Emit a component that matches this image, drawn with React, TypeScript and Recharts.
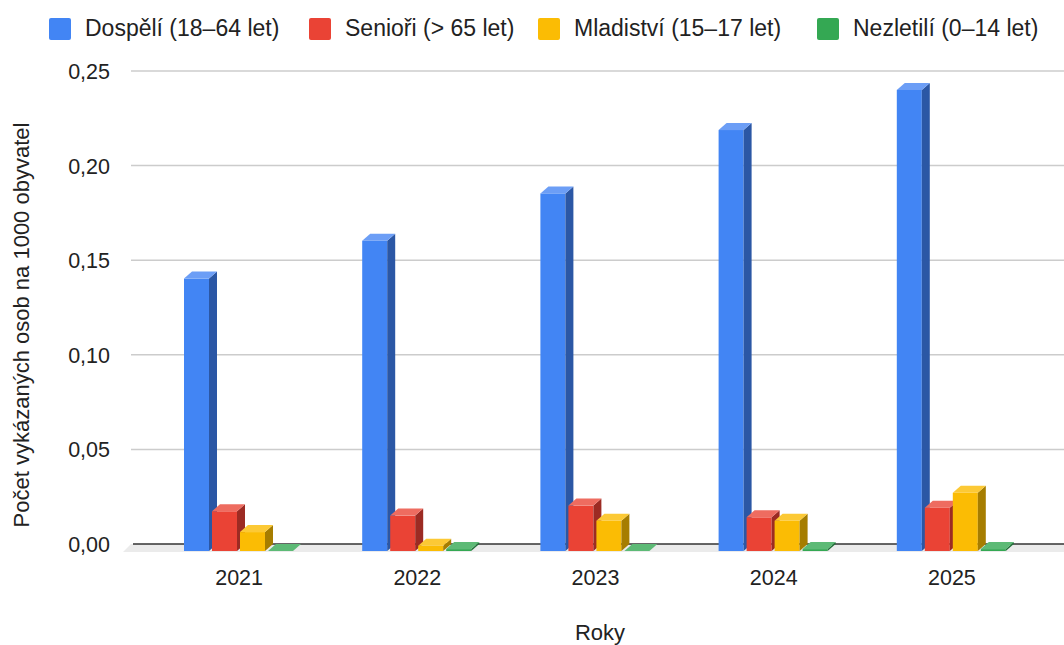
import React from "react";
import { BarChart, Bar, XAxis, YAxis, CartesianGrid } from "recharts";

const years = ["2021", "2022", "2023", "2024", "2025"];
const adults = [0.144, 0.164, 0.189, 0.2225, 0.2437];
const seniors = [0.021, 0.0187, 0.024, 0.0178, 0.0229];
const youth = [0.01, 0.0028, 0.016, 0.016, 0.0308];
const children = [0, 0.001, 0, 0.001, 0.001];
const yTicks = [0, 0.05, 0.1, 0.15, 0.2, 0.25];

const series = [
  { key: "adults", name: "Dospělí (18–64 let)", front: "#4285F4", side: "#2B57A5", top: "#6C9EF6" },
  { key: "seniors", name: "Senioři (> 65 let)", front: "#EA4335", side: "#9C2B23", top: "#EE6C60" },
  { key: "youth", name: "Mladiství (15–17 let)", front: "#FBBC04", side: "#A67D00", top: "#FCC935" },
  { key: "children", name: "Nezletilí (0–14 let)", front: "#34A853", side: "#22703A", top: "#5DBA76" },
];

const data = years.map((year, i) => ({
  year,
  adults: adults[i],
  seniors: seniors[i],
  youth: youth[i],
  children: children[i],
}));

// depth of the fake 3d
const DX = 8;
const DY = 7;
const FONT = '"Liberation Sans", Arial, sans-serif';
const legendLeft = [49, 309, 538, 817];

const make3d = (s: (typeof series)[number]) => (props: any) => {
  const { x, y, width: w, height: h } = props;
  if (x == null || y == null) return <g />;
  return (
    <g>
      <rect x={x} y={y} width={w} height={Math.max(h, 0)} fill={s.front} />
      <polygon
        points={`${x + w},${y} ${x + w + DX},${y - DY} ${x + w + DX},${y + h - DY} ${x + w},${y + h}`}
        fill={s.side}
      />
      <polygon
        points={`${x},${y} ${x + DX},${y - DY} ${x + w + DX},${y - DY} ${x + w},${y}`}
        fill={s.top}
      />
    </g>
  );
};

const gridLine = (props: any) => {
  const y = props.y1 - DY;
  if (Math.abs(props.y1 - 551) < 1) {
    return (
      <g key={props.key}>
        <polygon points={`123,552 1064,552 1064,${y} 131,${y}`} fill="#ebebeb" />
        <line x1={133} x2={1064} y1={y} y2={y} stroke="#333" strokeWidth={1.5} />
      </g>
    );
  }
  return <line key={props.key} x1={131} x2={1064} y1={y} y2={y} stroke="#cccccc" strokeWidth={1.5} />;
};

const YTick = (props: any) => {
  const { y, payload } = props;
  return (
    <text x={110} y={y + 1} textAnchor="end" fontSize={21.5} fontFamily={FONT} fill="#222">
      {payload.value.toFixed(2).replace(".", ",")}
    </text>
  );
};

const XTick = (props: any) => {
  const { x, payload } = props;
  return (
    <text x={x} y={585} textAnchor="middle" fontSize={21.5} fontFamily={FONT} fill="#222">
      {payload.value}
    </text>
  );
};

export default function App() {
  return (
    <div style={{ position: "relative", width: 1064, height: 645, background: "#fff" }}>
      <style>{"body{margin:0}"}</style>
      {series.map((s, i) => (
        <div key={s.key} style={{ position: "absolute", top: 15, left: legendLeft[i], display: "flex", alignItems: "center", fontFamily: FONT, fontSize: 23, color: "#222" }}>
          <span style={{ width: 22, height: 22, background: s.front, borderRadius: 2, marginRight: 14 }} />
          <span>{s.name}</span>
        </div>
      ))}
      <BarChart
        width={1064}
        height={645}
        data={data}
        margin={{ top: 78, right: 23, bottom: 0, left: 0 }}
        barCategoryGap={34}
        barGap={3}
      >
        <CartesianGrid vertical={false} horizontal={gridLine} />
        <XAxis
          dataKey="year"
          height={94}
          axisLine={false}
          tickLine={false}
          tick={<XTick />}
          label={{
            content: () => (
              <text x={600} y={640} textAnchor="middle" fontSize={22} fontFamily={FONT} fill="#222">
                Roky
              </text>
            ),
          }}
        />
        <YAxis
          width={150}
          domain={[0, 0.25]}
          ticks={yTicks}
          axisLine={false}
          tickLine={false}
          tick={<YTick />}
          label={{
            content: () => (
              <text transform="translate(29,325) rotate(-90)" textAnchor="middle" fontSize={22} fontFamily={FONT} fill="#222">
                Počet vykázaných osob na 1000 obyvatel
              </text>
            ),
          }}
        />
        {series.map((s) => (
          <Bar key={s.key} dataKey={s.key} name={s.name} fill={s.front} shape={make3d(s)} isAnimationActive={false} />
        ))}
      </BarChart>
    </div>
  );
}
